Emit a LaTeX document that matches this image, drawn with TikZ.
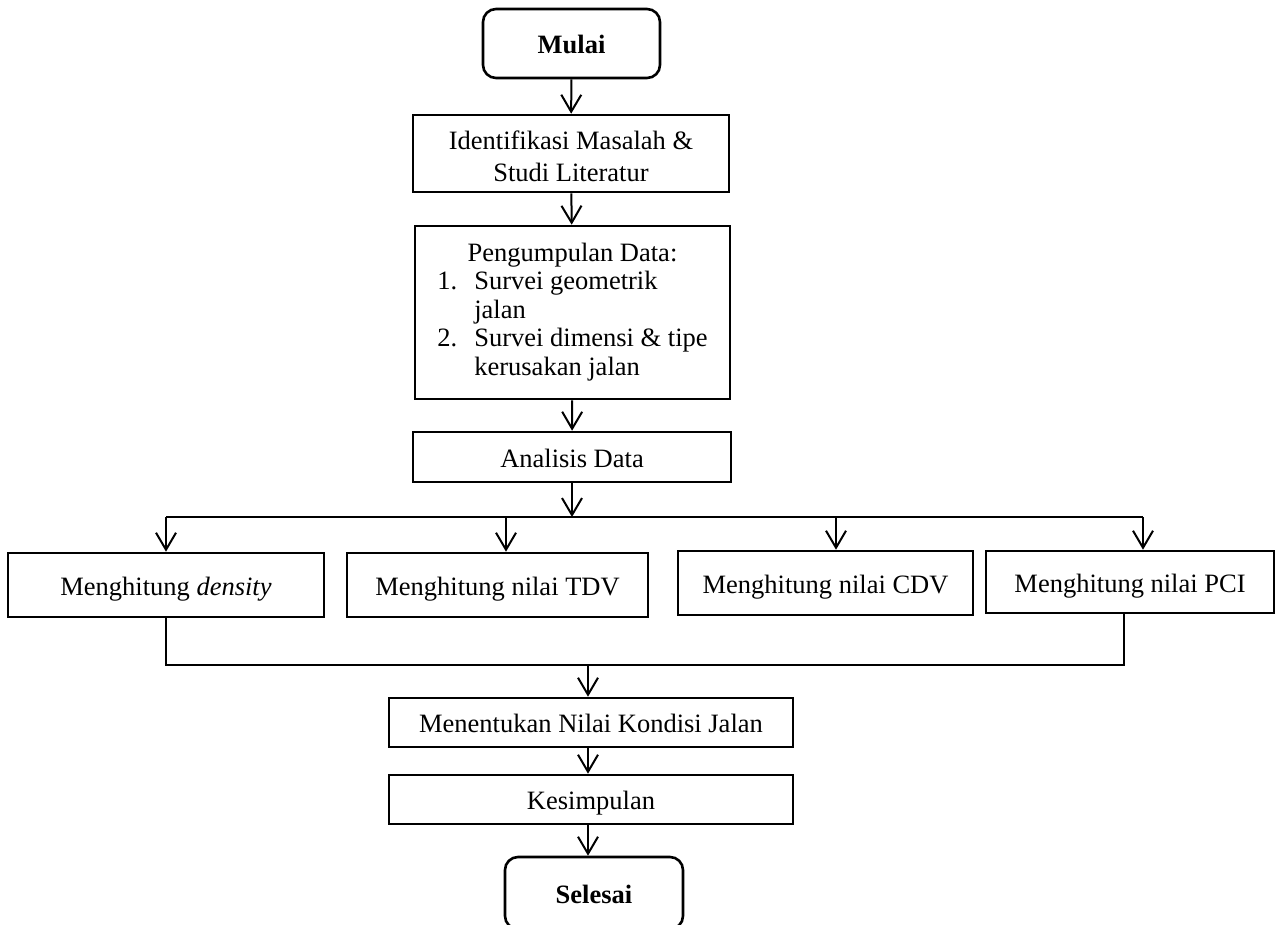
\documentclass[tikz,border=0pt]{standalone}
\usepackage{fontspec}
\setmainfont{Liberation Serif}
\usetikzlibrary{arrows.meta,positioning}

\begin{document}
\begin{tikzpicture}[x=1pt, y=-1pt,
            kotak/.style={draw, line width=2.6pt, align=center, inner sep=0pt,
                font=\fontsize{26.5}{32}\selectfont},
            satubaris/.style={text height=20pt, text depth=0pt},
            terminal/.style={kotak, satubaris, rounded corners=13pt,
                font=\fontsize{26.5}{32}\selectfont\bfseries},
            panah/.style={line width=2pt, -{Straight Barb[length=17pt,width=20pt]}},
            garis/.style={line width=2pt}]

            \clip (0,0) rectangle (1276,924);

            \node[terminal, minimum width=177pt, minimum height=69pt] (mulai) at (571.5,43.5) {Mulai};
            \node[kotak, minimum width=316pt, minimum height=77pt] (identifikasi) at (571,153.5)
                {\rule{0pt}{25pt}Identifikasi Masalah \&\\Studi Literatur};
            \node[kotak, minimum width=315pt, minimum height=173pt] (pengumpulan) at (572.5,312.5)
                {\fontsize{26.5}{28.5}\selectfont
                 \begin{tabular}{@{}l@{}l@{}}
                     \multicolumn{2}{@{}c@{}}{Pengumpulan Data:}\\
                     \makebox[37pt][l]{1.} & Survei geometrik\\
                     & jalan\\
                     \makebox[37pt][l]{2.} & Survei dimensi \& tipe\\
                     & kerusakan jalan\rule[-6pt]{0pt}{6pt}
                 \end{tabular}};
            \node[kotak, satubaris, minimum width=318pt, minimum height=50pt] (analisis) at (572,457) {Analisis Data};

            % empat perhitungan
            \node[kotak, satubaris, minimum width=316pt, minimum height=64pt] (density) at (166,585) {Menghitung \textit{density}};
            \node[kotak, satubaris, minimum width=301pt, minimum height=64pt] (tdv) at (497.5,585) {Menghitung nilai TDV};
            \node[kotak, satubaris, minimum width=295pt, minimum height=64pt] (cdv) at (825.5,583) {Menghitung nilai CDV};
            \node[kotak, satubaris, minimum width=288pt, minimum height=62pt] (pci) at (1130,582) {Menghitung nilai PCI};

            \node[kotak, satubaris, minimum width=404pt, minimum height=49pt] (menentukan) at (591,722.5) {Menentukan Nilai Kondisi Jalan};
            \node[kotak, satubaris, minimum width=404pt, minimum height=49pt] (kesimpulan) at (591,799.5) {Kesimpulan};
            \node[terminal, minimum width=178pt, minimum height=72pt] (selesai) at (594,893) {Selesai};

            \coordinate (cabang) at (572,517);
            \coordinate (gabung) at (588,665);
            \coordinate (masukTDV) at ([xshift=8.5pt]tdv.north);
            \coordinate (masukCDV) at ([xshift=10.5pt]cdv.north);
            \coordinate (masukPCI) at ([xshift=13pt]pci.north);
            \coordinate (keluarPCI) at ([xshift=-6pt]pci.south);

            \draw[panah] (mulai) -- (identifikasi);
            \draw[panah] (identifikasi) -- (pengumpulan);
            \draw[panah] (pengumpulan) -- (analisis);
            \draw[panah] (analisis) -- (cabang);

            \draw[garis] (density.north |- cabang) -- (masukPCI |- cabang);
            \draw[panah] (density.north |- cabang) -- (density.north);
            \draw[panah] (masukTDV |- cabang) -- (masukTDV);
            \draw[panah] (masukCDV |- cabang) -- (masukCDV);
            \draw[panah] (masukPCI |- cabang) -- (masukPCI);

            \draw[garis] (density.south) |- (gabung) -| (keluarPCI);
            \draw[panah] (gabung) -- (gabung |- menentukan.north);
            \draw[panah] (menentukan.south -| gabung) -- (kesimpulan.north -| gabung);
            \draw[panah] (kesimpulan.south -| gabung) -- (selesai.north -| gabung);
        \end{tikzpicture}
\end{document}
